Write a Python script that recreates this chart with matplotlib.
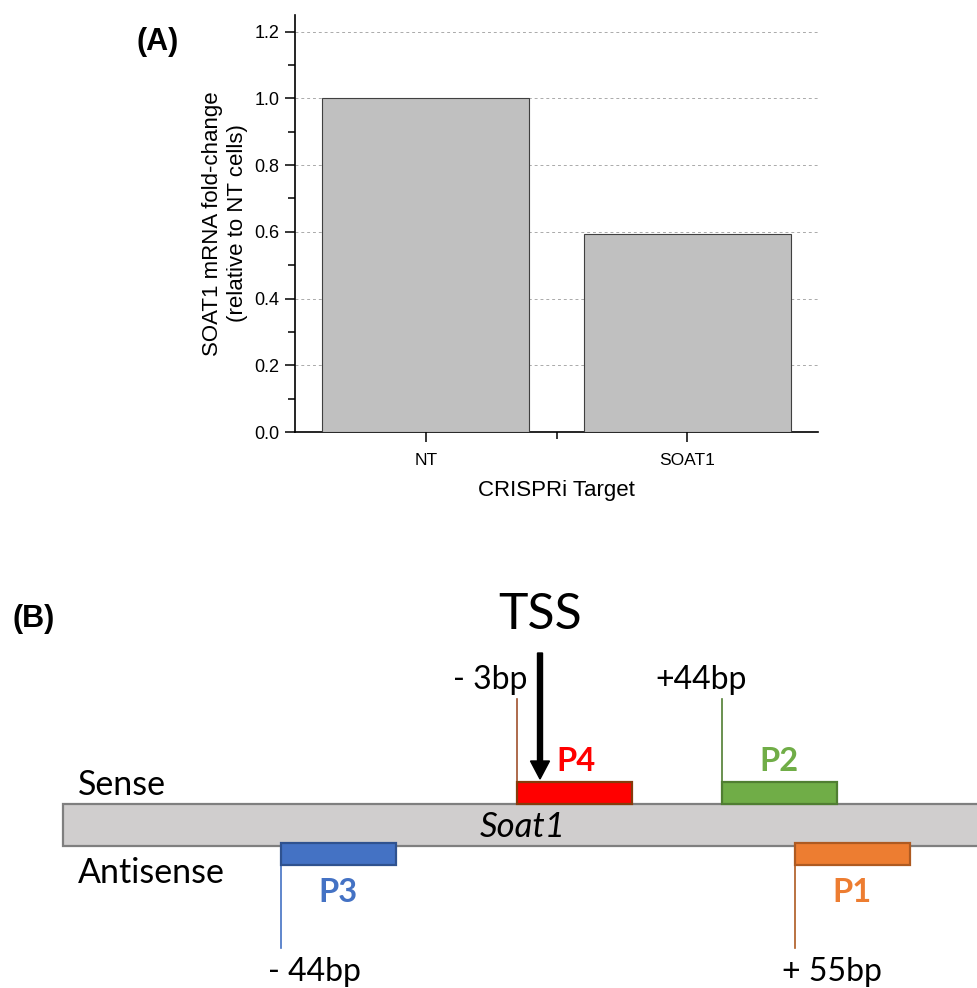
import numpy as np
import matplotlib
matplotlib.use('Agg')
import matplotlib.pyplot as plt
from matplotlib.patches import Rectangle, FancyArrow

# qPCR fold change after CRISPRi knockdown
targets = ['NT', 'SOAT1']
fold_change = [1.0, 0.595]

# primer sets around the Soat1 TSS
primer_names = ['P1', 'P2', 'P3', 'P4']
primer_offsets = ['+ 55bp', '+44bp', '- 44bp', '- 3bp']
primer_strands = ['antisense', 'sense', 'antisense', 'sense']
primer_fill = ['#ED7D31', '#70AD47', '#4472C4', '#FF0000']
primer_edge = ['#AE5A21', '#507E32', '#2F528F', '#843C0C']
primer_text = ['#ED7D31', '#70AD47', '#4472C4', '#FF0000']
primer_line = ['#AE5A21', '#507E32', '#4472C4', '#A0522D']

# schematic x-positions (pixels) of the primer start sites
primer_x = [795, 722, 281, 517]

W, H = 977, 988
fig = plt.figure(figsize=(W / 100, H / 100), dpi=100)

# ---------- (B) schematic, drawn in pixel coordinates ----------
axb = fig.add_axes([0, 0, 1, 1])
axb.set_xlim(0, W)
axb.set_ylim(H, 0)
axb.axis('off')

cal = ['Lato', 'DejaVu Sans']

gene_top, gene_bot = 804, 846
axb.add_patch(Rectangle((63, gene_top), 1000, gene_bot - gene_top,
                        facecolor='#D0CECE', edgecolor='#7F7F7F', lw=1.6, zorder=1))
axb.text(523, 837, 'Soat1', family=cal, style='italic', fontsize=25,
         ha='center', va='baseline', zorder=3)

axb.text(78, 795, 'Sense', family=cal, fontsize=24.5, ha='left', va='baseline')
axb.text(78, 883, 'Antisense', family=cal, fontsize=24.5, ha='left', va='baseline')

box_w, box_h = 115, 22
for name, off, strand, fc, ec, tc, lc, x in zip(primer_names, primer_offsets, primer_strands,
                                                 primer_fill, primer_edge, primer_text,
                                                 primer_line, primer_x):
    if strand == 'sense':
        y0 = gene_top - box_h
        axb.add_patch(Rectangle((x, y0), box_w, box_h, facecolor=fc, edgecolor=ec,
                                lw=1.6, zorder=4))
        axb.plot([x, x], [699, y0], color=lc, lw=1.2, zorder=3)
        if name == 'P4':
            axb.text(x + 39, 771, name, family=cal, fontsize=23.5, fontweight='bold',
                     color=tc, ha='left', va='baseline')
        else:
            axb.text(x + 57, 771, name, family=cal, fontsize=23.5, fontweight='bold',
                     color=tc, ha='center', va='baseline')
        if off.startswith('-'):
            axb.text(x + 10, 689, off, family=cal, fontsize=23, ha='right', va='baseline')
        else:
            axb.text(x - 67, 689, off, family=cal, fontsize=23, ha='left', va='baseline')
    else:
        y0 = gene_bot - 3
        axb.add_patch(Rectangle((x, y0), box_w, box_h, facecolor=fc, edgecolor=ec,
                                lw=1.6, zorder=4))
        axb.plot([x, x], [y0 + box_h, 948], color=lc, lw=1.2, zorder=3)
        axb.text(x + 57, 902, name, family=cal, fontsize=23.5, fontweight='bold',
                 color=tc, ha='center', va='baseline')
        axb.text(x - 13, 981, off, family=cal, fontsize=23, ha='left', va='baseline')

# TSS arrow
axb.text(540, 629, 'TSS', family=cal, fontsize=36, ha='center', va='baseline')
axb.add_patch(FancyArrow(540, 653, 0, 126, width=5, head_width=19, head_length=18,
                         length_includes_head=True, color='black', zorder=5))

axb.text(12, 627, '(B)', family=['Liberation Sans'], fontsize=22, fontweight='bold',
         ha='left', va='baseline')

# ---------- (A) bar chart ----------
ax = fig.add_axes([295 / W, 1 - 432 / H, (818 - 295) / W, (432 - 15) / H])
x = np.arange(1, len(targets) + 1)
ax.bar(x, fold_change, width=0.79, color='#C0C0C0', edgecolor='#404040',
       linewidth=0.8, zorder=3)
ax.set_xlim(0.5, 2.5)
ax.set_ylim(0, 1.25)
ax.set_yticks(np.arange(0, 1.21, 0.2))
ax.set_yticks(np.arange(0.1, 1.21, 0.2), minor=True)
ax.set_yticklabels([f'{v:.1f}' for v in np.arange(0, 1.21, 0.2)],
                   family='Liberation Sans', fontsize=13)
ax.set_xticks(x)
ax.set_xticks([1.5], minor=True)
ax.set_xticklabels(targets, family='Liberation Sans', fontsize=12.5)
ax.tick_params(which='major', direction='out', length=7, width=1.1, pad=4)
ax.tick_params(which='minor', direction='out', length=5, width=1.1)
ax.tick_params(axis='x', which='major', pad=8)
ax.grid(axis='y', which='major', linestyle=(0, (3, 3)), color='#AAAAAA', lw=0.7, zorder=0)
for s in ['top', 'right']:
    ax.spines[s].set_visible(False)
for s in ['left', 'bottom']:
    ax.spines[s].set_linewidth(1.2)
ax.set_xlabel('CRISPRi Target', family='Liberation Sans', fontsize=16, labelpad=9)
ax.set_ylabel('SOAT1 mRNA fold-change\n(relative to NT cells)', family='Liberation Sans',
              fontsize=16, labelpad=5, linespacing=1.2)

fig.text(137 / W, 1 - 50 / H, '(A)', family='Liberation Sans', fontsize=22,
         fontweight='bold', ha='left', va='baseline')

fig.savefig('out.png', dpi=100)
